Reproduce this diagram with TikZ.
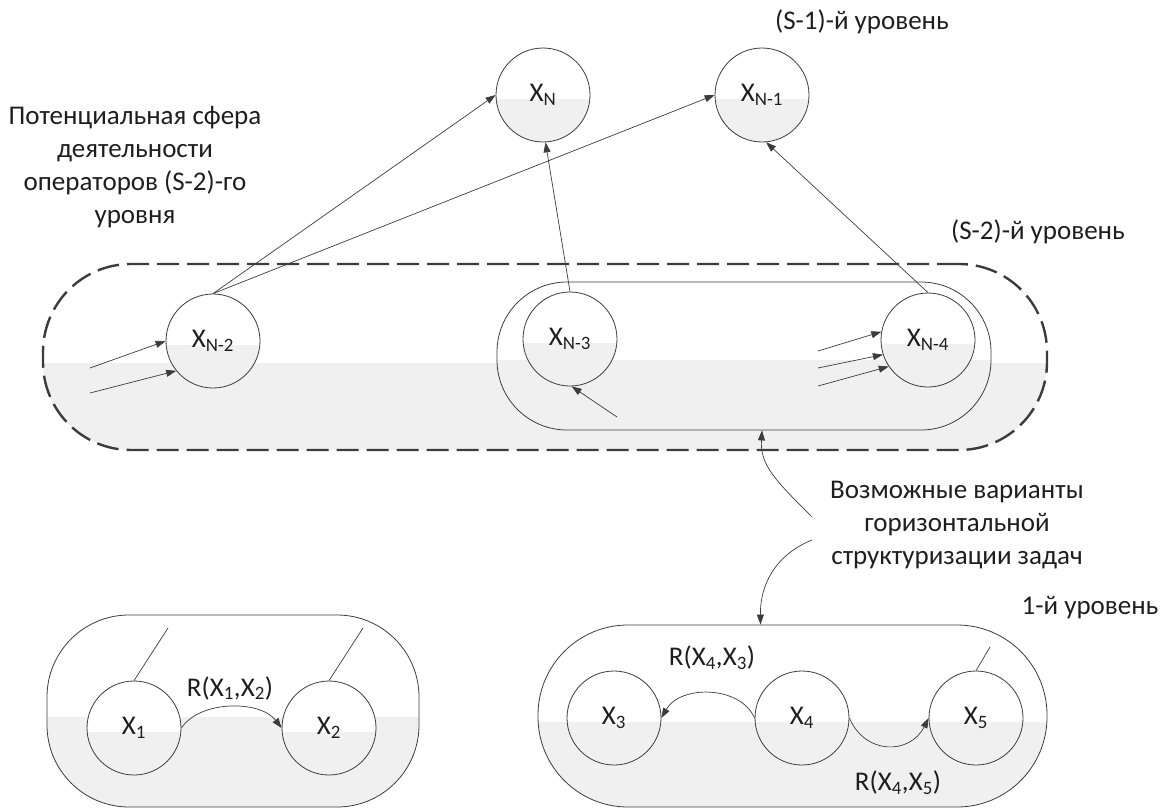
\documentclass[tikz,border=0pt]{standalone}
\usepackage{fontspec}
\setmainfont{Carlito}
\usetikzlibrary{arrows.meta}

\definecolor{linegray}{RGB}{60,60,60}
\definecolor{shadegray}{RGB}{240,240,240}
\definecolor{textgray}{RGB}{30,30,30}

\tikzset{
  lowshade/.style={fill=white,
    path picture={\fill[shadegray, sharp corners] ([yshift=-#1]path picture bounding box.west) rectangle (path picture bounding box.south east);}},
  lowshade/.default=4pt,
  vtx/.style={circle, draw=linegray, line width=0.8pt, minimum size=94pt, inner sep=0pt, lowshade},
  zone/.style={rectangle, draw=linegray, line width=0.8pt, inner sep=0pt, lowshade=6pt},
  ln/.style={draw=linegray, line width=0.7pt},
  arr/.style={ln, -{Triangle[length=10pt,width=7pt]}}
}

\begin{document}
\begin{tikzpicture}[x=1pt, y=-1pt, every node/.style={text=textgray, font=\fontsize{27}{33}\selectfont}]
\useasboundingbox (0,0) rectangle (1169,811);

% (S-2) level
\node[zone, dash pattern=on 22pt off 8pt, line width=2.4pt, minimum width=1004pt, minimum height=186pt, rounded corners=88pt] (outer) at (545,357) {};
\node[zone, minimum width=494pt, minimum height=148pt, rounded corners=70pt, lowshade=4pt] (inner) at (744,356) {};

% 1st level
\node[zone, minimum width=372pt, minimum height=192pt, rounded corners=82pt] (lowL) at (233,711) {};
\node[zone, minimum width=509pt, minimum height=182pt, rounded corners=90pt] (lowR) at (792.5,716) {};

% tasks
\node[vtx] (xn) at (543,95) {X\textsubscript{N}};
\node[vtx] (xn1) at (762,95) {X\textsubscript{N-1}};
\node[vtx] (xn2) at (213,341) {X\textsubscript{N-2}};
\node[vtx] (xn3) at (570,339) {X\textsubscript{N-3}};
\node[vtx] (xn4) at (928,340) {X\textsubscript{N-4}};
\node[vtx] (x1) at (134,728) {X\textsubscript{1}};
\node[vtx] (x2) at (329,728) {X\textsubscript{2}};
\node[vtx] (x3) at (614,718) {X\textsubscript{3}};
\node[vtx] (x4) at (802,718) {X\textsubscript{4}};
\node[vtx] (x5) at (976,718) {X\textsubscript{5}};

% links up
\draw[arr] (xn2.north) -- (xn.west);
\draw[arr] (xn2.north) -- (xn1.west);
\draw[arr] (xn3.north) -- (xn.-87);
\draw[arr] (xn4.north) -- (xn1.-85);

% incoming
\coordinate (a1) at (90,368);
\coordinate (a2) at (90,393);
\coordinate (a3) at (617,417);
\coordinate (a4) at (818,351);
\coordinate (a5) at (818,368);
\coordinate (a6) at (818,386);
\draw[arr] (a1) -- (xn2.west);
\draw[arr] (a2) -- (xn2.219);
\draw[arr] (a3) -- (xn3.-88);
\draw[arr] (a4) -- (xn4.170);
\draw[arr] (a5) -- (xn4.198);
\draw[arr] (a6) -- (xn4.214);

% stubs
\coordinate (t1) at (168,628);
\coordinate (t2) at (363,628);
\coordinate (t5) at (990,647);
\draw[ln] (x1.north) -- (t1);
\draw[ln] (x2.north) -- (t2);
\draw[ln] (x5.north) -- (t5);

% relations
\draw[arr] (x1.east) .. controls (200,700) and (260,700) .. (x2.west);
\draw[arr] (x4.west) .. controls (740,685) and (680,685) .. (x3.east);
\draw[arr] (x4.east) .. controls (865,755) and (910,755) .. (x5.west);
\node (r12) at (230,688) {R(X\textsubscript{1},X\textsubscript{2})};
\node (r43) at (712,658) {R(X\textsubscript{4},X\textsubscript{3})};
\node (r45) at (898,783) {R(X\textsubscript{4},X\textsubscript{5})};

% texts
\node (s1lvl) at (862,22) {(S-1)-й уровень};
\node (s2lvl) at (1038,232) {(S-2)-й уровень};
\node (lvl1) at (1090,608) {1-й уровень};
\node[align=center] (sphere) at (135,167) {Потенциальная сфера\\деятельности\\операторов (S-2)-го\\уровня};
\node[align=center] (variants) at (957,525) {Возможные варианты\\горизонтальной\\структуризации задач};

\coordinate (vu) at (812,517);
\coordinate (vd) at (812,540);
\draw[arr] (vu) .. controls (775,480) and (760,465) .. ([xshift=18pt]inner.south);
\draw[arr] (vd) .. controls (775,555) and (760,585) .. ([xshift=-32pt]lowR.north);
\end{tikzpicture}
\end{document}
